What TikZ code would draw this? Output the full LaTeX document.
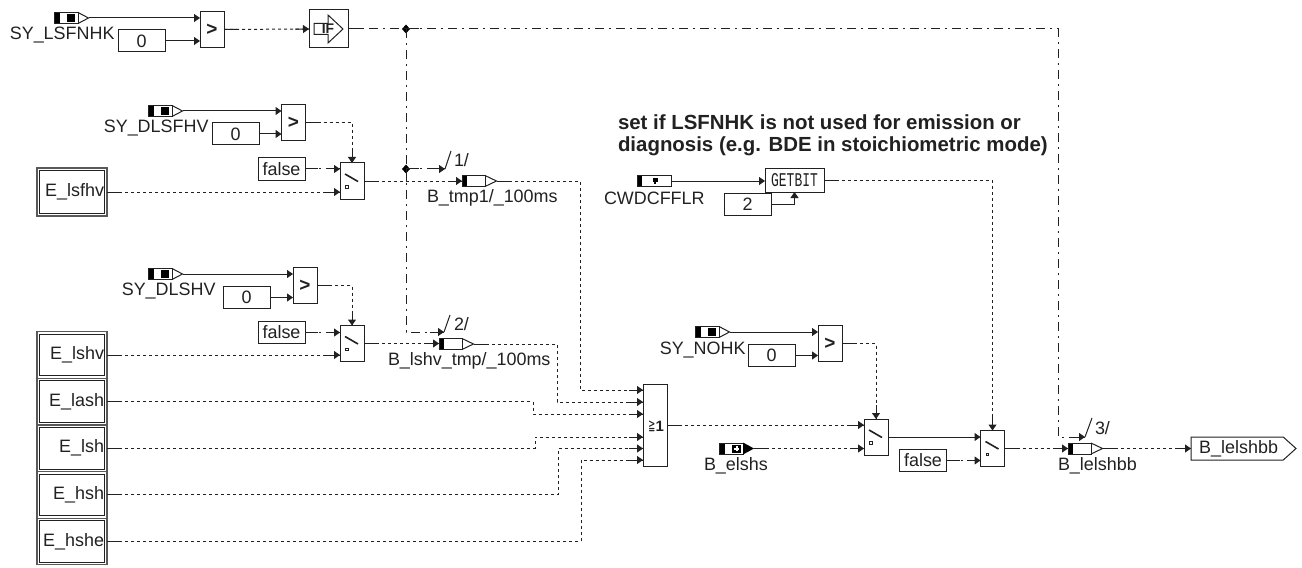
\documentclass[tikz,border=0pt]{standalone}
\usepackage{fontspec}
\usepackage{xcolor}
\usepackage{tikz}
\usetikzlibrary{arrows.meta,positioning,shapes.geometric,shapes.symbols,decorations.markings}
\setmainfont{Liberation Sans}
\newfontfamily\gatefont{Liberation Mono}
\newfontfamily\symfont{DejaVu Sans}
\definecolor{wire}{gray}{0.13}

\begin{document}
\begin{tikzpicture}[
      x=1bp, y=-1bp,
      line width=1bp, draw=wire,
      every node/.style={inner sep=0pt, outer sep=0pt, text=wire},
      txt/.style={font=\fontsize{18}{20}\selectfont},
      lbl/.style={txt, anchor=west},
      blk/.style={draw, fill=white},
      cmp/.style={blk, minimum width=24bp, minimum height=35.5bp, font=\fontsize{19}{20}\selectfont\bfseries},
      const/.style={blk, txt, minimum width=47bp, minimum height=22bp},
      ebox/.style={draw=black!65, line width=1.2bp, minimum width=70bp, minimum height=46.6bp, txt, align=right, text width=64bp},
      arr/.style={-{Stealth[length=6bp, width=8bp, inset=0pt]}},
      ends/.style={postaction={decorate, decoration={markings,
          mark=at position 0 with {\draw[solid, -] (0,0) -- (13,0);},
          mark=at position 1 with {\draw[solid, -] (-14,0) -- (0,0);}}}},
      sig/.style={arr, dash pattern=on 3bp off 3bp, ends},
      ctl/.style={arr, dash pattern=on 9bp off 5bp on 2bp off 5bp, ends},
      jct/.style={diamond, fill=black, minimum width=8bp, minimum height=9bp},
      flag/.style={minimum width=35bp, minimum height=12bp},
      switch/.style={blk, minimum width=24bp, minimum height=36bp},
      ifblk/.style={blk, minimum width=39bp, minimum height=38bp, font=\fontsize{14}{14}\selectfont\bfseries},
    ]
    \useasboundingbox (0,0) rectangle (1302,568);
    % first row
    \node[flag] (lsfnhk) at (71.5,18) {};
    \node[lbl, anchor=east] (lsfnhklbl) at (114.5,35) {SY\_LSFNHK};
    \node[const] (zeroa) at (141.5,41) {0};
    \node[cmp] (cmpa) at (212,29.5) {>};
    \node[ifblk] (ifb) at (328.5,29) {\hspace*{-1pt}IF};
    \node[jct] (jcta) at (406,29) {};
    \node[jct] (jctb) at (406,169) {};
    % LSFHV branch
    \node[flag] (dlsfhv) at (165.5,111) {};
    \node[lbl, anchor=east] (dlsfhvlbl) at (208.5,128) {SY\_DLSFHV};
    \node[const] (zerob) at (235.5,134) {0};
    \node[cmp] (cmpb) at (293.5,122.5) {>};
    \node[const] (falsea) at (281.5,169) {false};
    \node[switch] (swa) at (352,181) {};
    \node[ebox, minimum height=48bp] (elsfhv) at (72,192) {E\_lsfhv};
    \node[flag] (tmpa) at (479.5,181) {};
    \node[lbl] (tmpalbl) at (427,198) {B\_tmp1/\_100ms};
    \node[lbl] (msga) at (454,160) {1/};
    % LSHV branch
    \node[flag] (dlshv) at (165.5,274) {};
    \node[lbl, anchor=east] (dlshvlbl) at (215.5,291) {SY\_DLSHV};
    \node[const] (zeroc) at (246.5,297.5) {0};
    \node[cmp] (cmpc) at (305,285.5) {>};
    \node[const] (falseb) at (281.5,332.5) {false};
    \node[switch] (swb) at (352,343.5) {};
    \node[flag] (tmpb) at (456.5,344) {};
    \node[lbl] (tmpblbl) at (388,361) {B\_lshv\_tmp/\_100ms};
    \node[lbl] (msgb) at (454,324) {2/};
    % event stack
    \node[ebox] (elshv) at (72,355) {E\_lshv};
    \node[ebox, below=0pt of elshv] (elash) {E\_lash};
    \node[ebox, below=0pt of elash] (elsh) {E\_lsh};
    \node[ebox, below=0pt of elsh] (ehsh) {E\_hsh};
    \node[ebox, below=0pt of ehsh] (ehshe) {E\_hshe};
    \foreach \ev in {elsfhv,elshv,elash,elsh,ehsh,ehshe}
      \draw ([shift={(2.5,2.5)}]\ev.north west) rectangle ([shift={(-2.5,-2.5)}]\ev.south east);
    \node[blk, minimum width=24bp, minimum height=82bp] (orblk) at (655,425) {};
    \node[font=\symfont\fontsize{12}{12}\selectfont, anchor=east] (orsym) at (655.5,426) {\scalebox{0.7}[1.25]{≧}};
    \node[font=\fontsize{15}{15}\selectfont\bfseries, right=0pt of orsym] (orone) {1};
    % GETBIT part
    \node[font=\fontsize{20.5}{22.5}\selectfont\bfseries, align=left, anchor=west] (note) at (618,135) {set if LSFNHK is not used for emission or\\diagnosis (e.g. BDE in stoichiometric mode)};
    \node[flag] (cwd) at (654.5,181) {};
    \node[lbl] (cwdlbl) at (604,198) {CWDCFFLR};
    \node[blk, minimum width=59bp, minimum height=23bp, font=\gatefont\fontsize{13}{13}\selectfont] (getbit) at (794.5,180.5) {\scalebox{1}[1.5]{GETBIT}};
    \node[const] (two) at (747.5,204.5) {2};
    % output part
    \node[flag] (nohk) at (712.5,332) {};
    \node[lbl, anchor=east] (nohklbl) at (745.5,350) {SY\_NOHK};
    \node[const] (zerod) at (771.5,355.5) {0};
    \node[cmp] (cmpd) at (830,343.5) {>};
    \node[flag] (elshs) at (736.5,448.5) {};
    \node[lbl] (elshslbl) at (704,466) {B\_elshs};
    \node[switch] (swc) at (876,437) {};
    \node[const] (falsec) at (923,460.5) {false};
    \node[switch] (swd) at (992.5,448.5) {};
    \node[flag] (bbflag) at (1085.5,448.5) {};
    \node[lbl] (bbflaglbl) at (1058,466) {B\_lelshbb};
    \node[lbl] (msgc) at (1095,428) {3/};
    \node[draw, txt, signal, signal to=east, signal pointer angle=84, minimum width=105bp, minimum height=23bp, anchor=west] (outp) at (1191,448.5) {\hspace*{3pt}B\_lelshbb};
    % block glyphs
    \foreach \fl in {lsfnhk,dlsfhv,dlshv,nohk} {
      \begin{scope}[shift={(\fl.west)}]
        \fill[black] (0,-6) rectangle (6,6);
        \fill[black] (13,-4) rectangle (21,4);
        \draw (0.5,-5.5) rectangle (24,5.5);
        \draw (24,-5.5) -- (34.5,0) -- (24,5.5);
      \end{scope}
    }
    \foreach \fl in {tmpa,tmpb,bbflag} {
      \begin{scope}[shift={(\fl.west)}]
        \fill[black] (0,-6) rectangle (5,6);
        \draw (0.5,-5.5) rectangle (23,5.5);
        \draw (23,-5.5) -- (34.5,0) -- (23,5.5);
      \end{scope}
    }
    \begin{scope}[shift={(cwd.west)}]
      \fill[black] (0,-6) rectangle (5,6);
      \draw (0.5,-5.5) rectangle (34.5,5.5);
      \fill[black] (16,-2.5) rectangle (21,0.5);
      \fill[black] (16.5,0) rectangle (18.5,2.5);
    \end{scope}
    \begin{scope}[shift={(elshs.west)}]
      \fill[black] (0,-6) rectangle (6,6);
      \draw (0.5,-5.5) rectangle (24,5.5);
      \fill[black] (13,-4) rectangle (22,4);
      \fill[white] (16.5,-2.5) rectangle (18.5,2.5);
      \fill[white] (15,-1) rectangle (20,1);
      \fill[black] (24,-6) -- (35,0) -- (24,6) -- cycle;
    \end{scope}
    \foreach \sw in {swa,swb,swc,swd} {
      \begin{scope}[shift={(\sw.west)}]
        \draw[line width=1.6bp] (5,-7) -- (18,0.5);
        \draw[line width=0.9bp] (5.5,4.5) rectangle (8,7);
      \end{scope}
    }
    \draw[shift={(ifb.west)}] (5,-5.5) -- (19,-5.5) -- (19,-14) -- (34,0) -- (19,14) -- (19,5.5) -- (5,5.5) -- cycle;
    % free corners and bus ends
    \coordinate (trga) at (445,169);
    \coordinate (trgb) at (444,332);
    \coordinate (trgc) at (1085,437);
    \coordinate (risec) at (1058,437);
    \coordinate (bussa) at (580,390);
    \coordinate (bussb) at (557,402);
    \coordinate (bussc) at (533,414);
    \coordinate (bussd) at (535,437);
    \coordinate (busse) at (558,448.5);
    \coordinate (bussf) at (581,460);
    \draw[arr] (lsfnhk.east) -- (lsfnhk.east -| cmpa.west);
    \draw[arr] (zeroa) -- (zeroa -| cmpa.west);
    \draw[sig] (cmpa.east) -- (ifb.west);
    \draw[arr] (dlsfhv.east) -- (dlsfhv.east -| cmpb.west);
    \draw[arr] (zerob) -- (zerob -| cmpb.west);
    \draw[sig] (cmpb.east) -| (swa.north);
    \draw[ctl] (falsea) -- (falsea -| swa.west);
    \draw[sig] (elsfhv.east) -- (elsfhv.east -| swa.west);
    \draw[sig] (swa.east) -- (tmpa.west);
    \draw[arr] (dlshv.east) -- (dlshv.east -| cmpc.west);
    \draw[arr] (zeroc) -- (zeroc -| cmpc.west);
    \draw[sig] (cmpc.east) -| (swb.north);
    \draw[ctl] (falseb) -- (falseb -| swb.west);
    \draw[sig] (elshv.east) -- (elshv.east -| swb.west);
    \draw[sig] (swb.east) -- (swb.east -| tmpb.west);
    % trigger lines
    \draw[dash pattern=on 9bp off 5bp on 2bp off 5bp] (ifb.east) -- (jcta.center);
    \draw (ifb.east) -- ++(16,0);
    \draw[dash pattern=on 9bp off 5bp on 2bp off 5bp] (jcta.center) -- (jctb.center);
    \draw[ctl] (jctb.center) -- (trga);
    \draw[ctl] (jctb.center) |- (trgb);
    \draw[ctl] (jcta.center) -| (risec) -- (trgc);
    \draw (trga) -- ++(6,-18);
    \draw (trgb) -- ++(6,-17);
    \draw (trgc) -- ++(7,-19);
    % into the OR block
    \draw[sig] (tmpa.east) -| (bussa) -- (bussa -| orblk.west);
    \draw[sig] (tmpb.east) -| (bussb) -- (bussb -| orblk.west);
    \draw[sig] (elash.east) -| (bussc) -- (bussc -| orblk.west);
    \draw[sig] (elsh.east) -| (bussd) -- (bussd -| orblk.west);
    \draw[sig] (ehsh.east) -| (busse) -- (busse -| orblk.west);
    \draw[sig] (ehshe.east) -| (bussf) -- (bussf -| orblk.west);
    \draw[sig] (orblk.east) -- (orblk.east -| swc.west);
    \draw[sig] (elshs.east) -- (elshs.east -| swc.west);
    \draw[arr] (nohk.east) -- (nohk.east -| cmpd.west);
    \draw[arr] (zerod) -- (zerod -| cmpd.west);
    \draw[sig] (cmpd.east) -| (swc.north);
    \draw[arr] (swc.east) -- (swc.east -| swd.west);
    \draw[ctl] (falsec) -- (falsec -| swd.west);
    \draw[arr] (cwd.east) -- (cwd.east -| getbit.west);
    \draw[arr] (two) -| (getbit.south);
    \draw[sig] (getbit.east) -| (swd.north);
    \draw[sig] (swd.east) -- (bbflag.west);
    \draw[sig] (bbflag.east) -- (outp.west);
  \end{tikzpicture}
\end{document}
